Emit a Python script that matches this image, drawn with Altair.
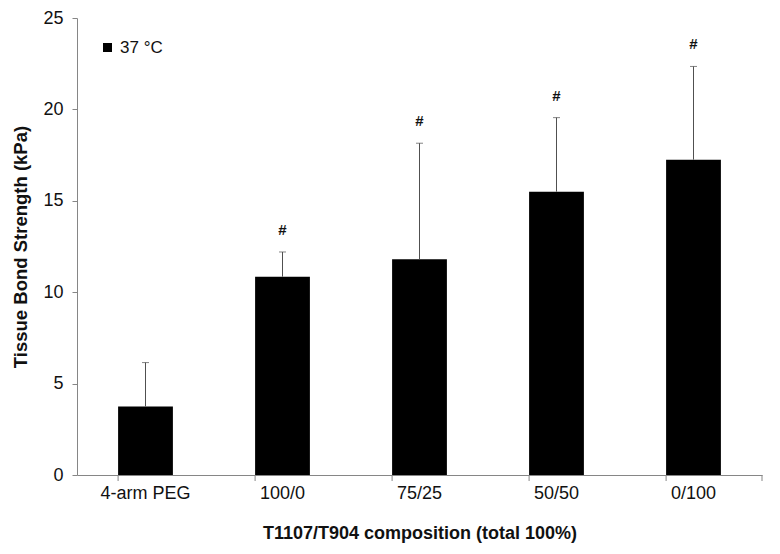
import altair as alt
import pandas as pd

categories = ["4-arm PEG", "100/0", "75/25", "50/50", "0/100"]
means = [3.75, 10.85, 11.8, 15.5, 17.25]
uppers = [6.15, 12.2, 18.15, 19.55, 22.35]
marks = ["", "#", "#", "#", "#"]
series = ["37 °C"] * 5

df = pd.DataFrame({"cat": categories, "mean": means, "upper": uppers,
                   "mark": marks, "series": series})

FONT = "Liberation Sans"
W, H = 685, 457

xscale = alt.Scale(domain=categories, paddingInner=0.6, paddingOuter=0.3)
yscale = alt.Scale(domain=[0, 25], nice=False)

base = alt.Chart(df)

bars = base.mark_bar(color="black").encode(
    x=alt.X("cat:N", scale=xscale, sort=categories,
            axis=alt.Axis(title="T1107/T904 composition (total 100%)", labelAngle=0,
                          ticks=False, labelPadding=9, titlePadding=22,
                          labelFontSize=18, titleFontSize=18)),
    y=alt.Y("mean:Q", scale=yscale,
            axis=alt.Axis(title="Tissue Bond Strength (kPa)", values=[0, 5, 10, 15, 20, 25],
                          tickSize=5, labelPadding=9, titlePadding=12, grid=False,
                          labelFontSize=18, titleFontSize=18.5)),
    color=alt.Color("series:N", scale=alt.Scale(range=["black"]),
                    legend=alt.Legend(title=None, orient="none", legendX=22, legendY=21,
                                      symbolType="square", symbolSize=81,
                                      labelFontSize=17, labelFont=FONT,
                                      labelColor="#111", labelOffset=4)),
)

err = base.mark_rule(color="#505050", strokeWidth=1).encode(
    x=alt.X("cat:N", scale=xscale, sort=categories),
    y="mean:Q",
    y2="upper:Q",
)

cap = base.mark_tick(color="#505050", thickness=1, size=7).encode(
    x=alt.X("cat:N", scale=xscale, sort=categories),
    y=alt.Y("upper:Q", scale=yscale),
)

hashes = base.mark_text(font=FONT, fontSize=15, fontWeight="bold", color="#111",
                        dy=-22, baseline="middle").encode(
    x=alt.X("cat:N", scale=xscale, sort=categories),
    y=alt.Y("upper:Q", scale=yscale),
    text="mark:N",
)

xticks = base.mark_rule(color="#868686").encode(
    x=alt.X("cat:N", scale=xscale, sort=categories, bandPosition=0),
    y=alt.value(H),
    y2=alt.value(H + 6),
)

endtick = alt.Chart(pd.DataFrame({"a": [0]})).mark_rule(color="#868686").encode(
    x=alt.value(W),
    y=alt.value(H),
    y2=alt.value(H + 6),
)

chart = alt.layer(bars, err, cap, hashes, xticks, endtick).properties(
    width=W, height=H,
    autosize=alt.AutoSizeParams(type="none"),
    padding={"left": 69, "top": 10, "right": 10, "bottom": 71},
    background="white",
).configure_view(stroke=None).configure_axis(
    labelFont=FONT, titleFont=FONT, labelColor="#111", titleColor="#111",
    domainColor="#868686", tickColor="#868686", titleFontWeight="bold",
)

chart.save("out.html", embed_options={"renderer": "svg", "actions": False})
